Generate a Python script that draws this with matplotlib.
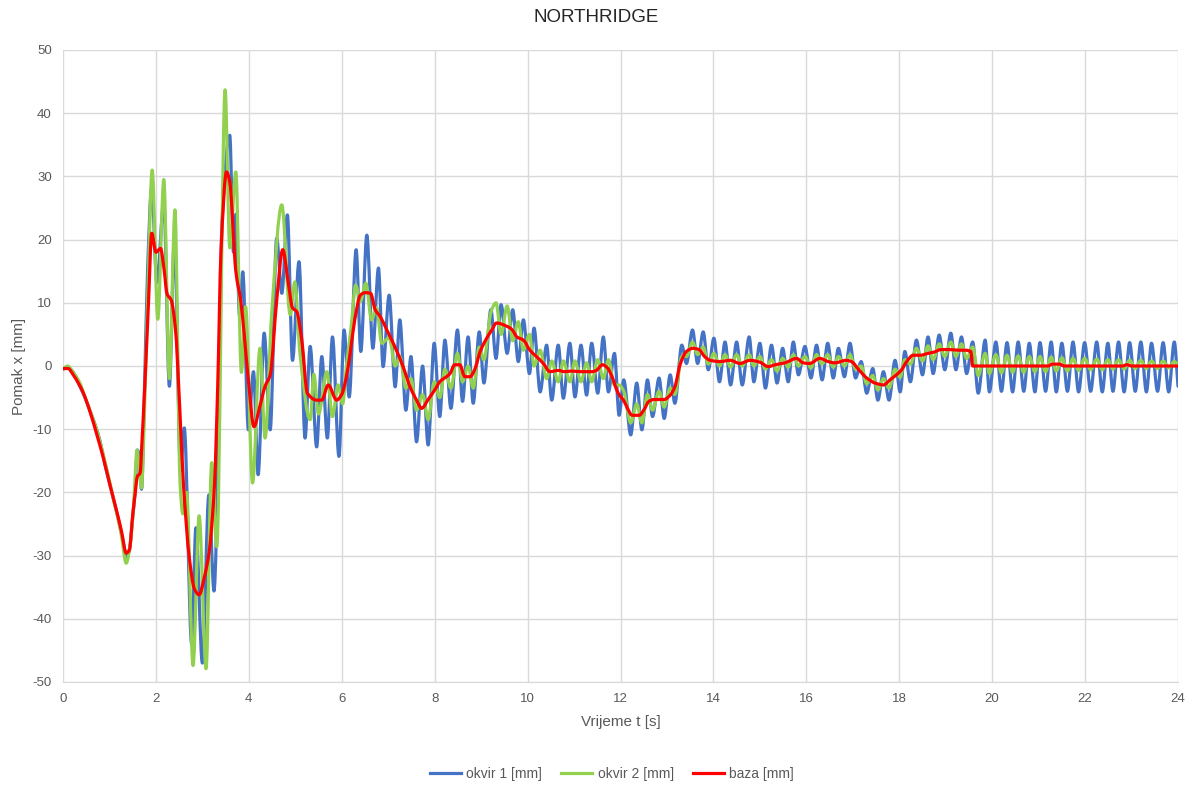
import matplotlib
matplotlib.use("Agg")
import matplotlib.pyplot as plt
from matplotlib.path import Path
from matplotlib.patches import PathPatch
from matplotlib.lines import Line2D

plt.rcParams['font.family'] = ['Liberation Sans', 'DejaVu Sans']
plt.rcParams['axes.unicode_minus'] = False

title = "NORTHRIDGE"
x_label = "Vrijeme t [s]"
y_label = "Pomak x [mm]"
series_names = ["okvir 1 [mm]", "okvir 2 [mm]", "baza [mm]"]
x_ticks = list(range(0, 25, 2))
y_ticks = list(range(-50, 51, 10))

# okvir 1 (blue) - read extrema
blue_t = [0, 0.1, 0.2, 0.35, 0.5, 0.6, 0.7, 0.8, 0.9, 1.0, 1.1, 1.2, 1.3, 1.37, 1.43, 1.5, 1.55, 1.6, 1.64, 1.69,
          1.75, 1.82, 1.91, 2.02, 2.17, 2.29, 2.4, 2.53, 2.61, 2.77, 2.86, 3.0, 3.14, 3.25, 3.35, 3.42, 3.59, 3.67,
          3.72, 3.8, 3.87, 3.99, 4.1, 4.2, 4.33, 4.46, 4.6, 4.71, 4.83, 4.94, 5.08, 5.21, 5.32, 5.46, 5.57, 5.69,
          5.8, 5.94, 6.05, 6.16, 6.31, 6.41, 6.54, 6.67, 6.79, 6.89, 7.02, 7.15, 7.25, 7.38, 7.49, 7.61, 7.74, 7.86,
          7.99, 8.11, 8.22, 8.35, 8.49, 8.6, 8.72, 8.83, 8.96, 9.06, 9.21, 9.32, 9.43, 9.56, 9.68, 9.8, 9.91, 10.04,
          10.14, 10.27, 10.41, 10.52, 10.66, 10.77, 10.91, 11.02, 11.15, 11.27, 11.38, 11.51, 11.63, 11.74, 11.87,
          11.97, 12.07, 12.22, 12.35, 12.46, 12.58, 12.69, 12.83, 12.94, 13.07, 13.17, 13.32, 13.42, 13.55, 13.66,
          13.78, 13.89, 14.01, 14.13, 14.25, 14.37, 14.5, 14.62, 14.77, 14.87, 15.0, 15.12, 15.25, 15.37, 15.49,
          15.61, 15.72, 15.83, 15.97, 16.1, 16.22, 16.34, 16.46, 16.58, 16.69, 16.82, 16.94, 17.06, 17.18, 17.3,
          17.43, 17.54, 17.66, 17.78, 17.91, 18.02, 18.12, 18.24, 18.37, 18.5, 18.62, 18.73, 18.86, 18.98, 19.11,
          19.22, 19.34, 19.45, 19.58, 19.7, 19.85, 19.94, 20.08, 20.2, 20.32, 20.44, 20.56, 20.68, 20.8, 20.92,
          21.03, 21.15, 21.27, 21.38, 21.5, 21.62, 21.74, 21.86, 21.99, 22.12, 22.25, 22.37, 22.49, 22.6, 22.72,
          22.84, 22.96, 23.08, 23.2, 23.32, 23.43, 23.56, 23.68, 23.8, 23.92, 24.0]
blue_v = [-0.5, -0.3, -0.8, -3, -5.5, -7.5, -9.5, -12, -15.5, -18.5, -21.5, -24.5, -28, -30.5, -29, -24, -20, -13.3, -14,
          -19.5, -5, 15, 28.3, 13.2, 25.9, -3.2, 20.4, -16.5, -9.8, -44, -25.6, -47, -20.4, -35.6, -10, 22.2, 36.5, 18,
          24, 8, 14.9, -10.1, -0.9, -17.2, 5.2, -10.1, 20.2, 11.5, 23.9, 0.9, 16.5, -11.4, 3.1, -12.8, 1.5, -11.4,
          4.6, -14.3, 5.7, -4.9, 18.4, 2.3, 20.7, 2.8, 15.5, -0.1, 11.2, -3.3, 7.3, -7, 1.5, -12, 0, -12.5,
          3.6, -8, 4.1, -6.7, 5.7, -5.6, 4.6, -5.9, 5.4, -2.7, 8.9, 1.2, 9.7, 2, 8.9, 0.7, 7.3, -1.2,
          6, -4.1, 3.3, -5.4, 3.3, -5.1, 3.6, -4.9, 3.3, -4.6, 3.6, -4.3, 4.6, -4.1, 2,
          -7.8, -2.2, -10.9, -2.7, -10.1, -2.2, -8, -1.9, -8.3, -1.4, -5.9, 3.3, 0.4, 5.7, 0.4,
          5.4, -0.6, 4.4, -2.5, 3.8, -3, 3.8, -3, 4.6, -2.5, 3.6, -3.5, 3.3, -2.7, 2.8,
          -2.5, 3.8, -1.4, 3.1, -1.9, 3.3, -2.2, 3.6, -1.9, 2.8, -1.7, 3.6, -1.9, 0.7, -4.3,
          -0.4, -5.4, -0.9, -5.4, 0.9, -4.1, 2.3, -2.5, 4.1, -1.4, 4.6, -1.2, 4.9, -0.6, 5.2,
          -0.6, 4.6, -1.2, 3.8, -4.3, 4.1, -4.1, 3.8, -4.0, 3.7, -4.1, 3.8, -4.0, 3.6, -4.1,
          3.7, -4.0, 3.8, -4.1, 3.6, -4.0, 3.8, -4.1, 3.7, -4.0, 3.8, -4.1, 3.6, -4.0, 3.8,
          -4.1, 3.7, -4.0, 3.8, -4.1, 3.6, -4.0, 3.7, -4.1, 3.8, -3.2]

# okvir 2 (green) - read extrema
green_t = [0, 0.1, 0.2, 0.35, 0.5, 0.7, 0.9, 1.1, 1.25, 1.36, 1.45, 1.52, 1.57, 1.59, 1.64, 1.69, 1.75, 1.82,
           1.92, 2.04, 2.17, 2.29, 2.41, 2.52, 2.58, 2.66, 2.8, 2.93, 3.08, 3.2, 3.31, 3.49, 3.59, 3.72, 3.84,
           3.93, 4.08, 4.24, 4.35, 4.49, 4.71, 4.89, 4.99, 5.1, 5.32, 5.4, 5.5, 5.68, 5.8, 5.92, 6.02, 6.1, 6.2,
           6.3, 6.4, 6.52, 6.64, 6.75, 6.86, 7.02, 7.15, 7.25, 7.38, 7.49, 7.61, 7.74, 7.86, 7.99, 8.11, 8.22,
           8.35, 8.49, 8.6, 8.72, 8.83, 8.96, 9.06, 9.21, 9.32, 9.43, 9.56, 9.68, 9.8, 9.91, 10.04, 10.14,
           10.27, 10.41, 10.52, 10.66, 10.77, 10.91, 11.02, 11.15, 11.27, 11.38, 11.51, 11.63, 11.74, 11.87,
           11.97, 12.07, 12.22, 12.35, 12.46, 12.58, 12.69, 12.83, 12.94, 13.07, 13.17, 13.32, 13.42, 13.55,
           13.66, 13.78, 13.89, 14.01, 14.13, 14.25, 14.37, 14.5, 14.62, 14.77, 14.87, 15.0, 15.12, 15.25,
           15.37, 15.49, 15.61, 15.72, 15.83, 15.97, 16.1, 16.22, 16.34, 16.46, 16.58, 16.69, 16.82, 16.94,
           17.06, 17.18, 17.3, 17.43, 17.54, 17.66, 17.78, 17.91, 18.02, 18.12, 18.24, 18.37, 18.5, 18.62,
           18.73, 18.86, 18.98, 19.11, 19.22, 19.34, 19.45, 19.58, 19.7, 19.85, 19.94, 20.08, 20.2, 20.32,
           20.44, 20.56, 20.68, 20.8, 20.92, 21.03, 21.15, 21.27, 21.38, 21.5, 21.62, 21.74, 21.86, 21.99,
           22.12, 22.25, 22.37, 22.49, 22.6, 22.72, 22.84, 22.96, 23.08, 23.2, 23.32, 23.43, 23.56, 23.68,
           23.8, 23.92, 24.0]
green_v = [-0.5, 0, -0.8, -2.5, -5.5, -9.5, -15, -21.5, -26.5, -31.2, -28, -22, -15, -13.3, -16.1, -19.3, -8, 10,
           31, 7.4, 29.5, -2, 24.7, -18.6, -23.4, -20, -47.4, -23.7, -47.9, -15.3, -28.6, 43.7, 18.7, 30.7, -1,
           9.4, -18.5, 2.8, -11.4, 8.1, 25.5, 8.1, 13.3, 2, -8.5, -1.3, -7.6, -0.9, -8, -3, -6, 0, 6,
           12.8, 10.2, 13.1, 7.3, 9.2, 3.6, 4.5, 0, 1.5, -3.5, -2, -7, -4.5, -8.5, -2.5, -5, -0.5,
           -3.5, 2, -2.5, 0, -3.5, 3, 1, 8.5, 10, 5, 9.5, 4, 7, 2.5, 5, 0,
           2.5, -2, 0.8, -2.5, 0.8, -2.5, 0.8, -2.5, 0.5, -2.5, 1, -2, 1, -3,
           -3, -4, -9, -6, -9, -4.5, -7, -4, -6.5, -3.5, -4.5, 1.5, 1.5, 3.8,
           1.8, 3, 0.3, 2, 0, 1.8, -0.2, 1.8, 0, 1.8, 0, 1.5, -0.5, 1,
           -0.8, 1.2, -0.2, 1.8, 0, 1.5, -0.3, 1.8, 0.3, 1.8, -0.2, 1.5, 0, 1.8,
           -0.5, 0, -2.8, -1.5, -3.8, -2, -3.5, -0.5, -1.8, 1, 0.3, 2.8, 0.8, 3.2,
           1, 3.5, 1.5, 3.8, 1.5, 3.5, 1.2, 3, -1.5, 2, -1.2, 1.8, -1.1, 1.7,
           -1.0, 1.6, -1.0, 1.5, -0.9, 1.5, -0.9, 1.4, -0.8, 1.3, -0.8, 1.2, -0.7, 1.2,
           -0.6, 1.1, -0.6, 1.0, -0.5, 1.0, -0.5, 0.9, -0.4, 0.9, -0.4, 0.8, -0.4, 0.8,
           -0.3, 0.7, 0.2]

# baza (red)
red_t = [0, 0.11, 0.22, 0.33, 0.44, 0.58, 0.73, 0.87, 1.01, 1.16, 1.26, 1.36, 1.43, 1.5, 1.55, 1.6, 1.66, 1.7,
         1.76, 1.84, 1.91, 2.0, 2.1, 2.17, 2.24, 2.33, 2.42, 2.51, 2.59, 2.72, 2.83, 2.93, 3.04, 3.15, 3.26,
         3.33, 3.4, 3.52, 3.59, 3.72, 3.83, 3.9, 4.0, 4.11, 4.24, 4.35, 4.46, 4.6, 4.73, 4.85, 4.94, 5.03,
         5.14, 5.26, 5.46, 5.57, 5.71, 5.89, 6.0, 6.1, 6.18, 6.28, 6.4, 6.5, 6.62, 6.72, 6.83, 6.97, 7.14,
         7.32, 7.47, 7.61, 7.72, 7.86, 8.0, 8.11, 8.33, 8.43, 8.54, 8.65, 8.76, 8.86, 8.98, 9.12, 9.23,
         9.33, 9.55, 9.66, 9.77, 9.91, 10.05, 10.16, 10.34, 10.48, 10.66, 10.8, 10.94, 11.15, 11.38, 11.48,
         11.61, 11.72, 11.8, 11.95, 12.08, 12.15, 12.25, 12.4, 12.5, 12.61, 12.72, 12.94, 13.07, 13.17,
         13.29, 13.42, 13.56, 13.69, 13.81, 13.93, 14.14, 14.36, 14.57, 14.79, 15.0, 15.18, 15.33, 15.54,
         15.79, 15.93, 16.07, 16.29, 16.47, 16.62, 16.86, 16.97, 17.13, 17.3, 17.48, 17.66, 17.8, 17.97,
         18.05, 18.16, 18.3, 18.45, 18.62, 18.75, 18.9, 19.08, 19.27, 19.42, 19.54, 19.58, 20.5, 21.2,
         21.3, 21.45, 21.55, 22.8, 22.9, 23.0, 24.0]
red_v = [-0.4, -0.4, -1.4, -2.7, -4.3, -7.2, -10.9, -14.6, -18.8, -23.1, -26.2, -29.6, -29.1, -23.6, -20.4, -17.5,
         -16.9, -12, -3.2, 10, 21, 18, 18.6, 15.6, 11.4, 10.4, 5.9, -6.2, -18.4, -30.4, -35.3, -36.2, -33.5,
         -29.2, -18.9, -3.2, 18, 30.7, 29.1, 15, 10.1, 5, -3, -9.6, -6.3, -3.2, -1.4, 10.4, 18.4, 13.1, 9.2,
         8.6, 4.1, -4.3, -5.4, -5.4, -3, -5.4, -4.5, -1.7, 2, 7.3, 11.2, 11.6, 11.5, 8.9, 7.8, 5.7, 3.1,
         -0.1, -3.3, -5.4, -6.7, -5.3, -3.8, -2.5, -1.2, 0.2, 0.2, -1.7, -1.7, -0.6, 2.3, 4.4, 5.7,
         6.8, 6.3, 5.8, 4.6, 4.1, 2.5, 1.7, 0.4, -0.9, -0.7, -0.9, -0.8, -0.9, -0.9, -0.7,
         0.2, -0.3, -1.4, -4.3, -5.6, -6.7, -7.8, -7.8, -7, -5.6, -5.3, -5.3, -4.6, -3.3,
         0.4, 2.3, 2.8, 2.6, 1.5, 0.9, 0.7, 0.9, 0.4, 0.9, 0.6, -0.1, 0.2, 0.5,
         1.2, 0.5, 0.4, 1.2, 0.7, 0.5, 0.9, 0.7, -0.6, -1.9, -2.7, -3, -2.2, -1.2,
         -0.6, 0.7, 1.7, 1.7, 2.0, 2.2, 2.6, 2.6, 2.5, 2.5, 2.3, 0, 0, 0,
         0.3, 0.3, 0, 0, 0.2, 0, 0]


def smooth_path(t, v):
    """Smoothed line (like a spreadsheet 'smoothed line') through the given points,
    drawn as cubic Bezier segments with monotone tangents."""
    n = len(t)
    d = [(v[i + 1] - v[i]) / (t[i + 1] - t[i]) for i in range(n - 1)]
    m = [0.0] * n
    m[0], m[-1] = d[0], d[-1]
    for i in range(1, n - 1):
        if d[i - 1] * d[i] <= 0:
            m[i] = 0.0
        else:
            m[i] = 2.0 / (1.0 / d[i - 1] + 1.0 / d[i])
    verts = [(t[0], v[0])]
    codes = [Path.MOVETO]
    for i in range(n - 1):
        h = t[i + 1] - t[i]
        verts += [(t[i] + h / 3, v[i] + m[i] * h / 3),
                  (t[i + 1] - h / 3, v[i + 1] - m[i + 1] * h / 3),
                  (t[i + 1], v[i + 1])]
        codes += [Path.CURVE4] * 3
    return Path(verts, codes)


fig = plt.figure(figsize=(11.93, 7.85), dpi=100)
ax = fig.add_axes([63 / 1193, 1 - 682 / 785, (1178 - 63) / 1193, (682 - 50) / 785])

grid_c = "#d9d9d9"
text_c = "#595959"
colors = ["#4472C4", "#92D050", "#FF0000"]
lw = 2.3
for (tt, vv), c, z in zip([(blue_t, blue_v), (green_t, green_v), (red_t, red_v)], colors, [3, 4, 5]):
    ax.add_patch(PathPatch(smooth_path(tt, vv), facecolor="none", edgecolor=c, lw=lw,
                           joinstyle="round", capstyle="round", zorder=z))

ax.set_xlim(0, 24)
ax.set_ylim(-50, 50)
ax.set_xticks(x_ticks)
ax.set_yticks(y_ticks)
ax.grid(True, color=grid_c, lw=1)
ax.set_axisbelow(True)
for s in ["top", "right", "left"]:
    ax.spines[s].set_visible(False)
ax.spines["bottom"].set_color(grid_c)
ax.tick_params(length=0, labelsize=9.5, colors=text_c, pad=8)
ax.set_xlabel(x_label, fontsize=11, color=text_c, labelpad=7)
ax.set_ylabel(y_label, fontsize=11, color=text_c, labelpad=5)
fig.text(0.5, 1 - 18 / 785, title, ha="center", va="center", fontsize=13.5, color="#262626")

handles = [Line2D([], [], color=c, lw=lw) for c in colors]
fig.legend(handles, series_names, loc="center", bbox_to_anchor=(612 / 1193, 1 - 774 / 785), ncol=3, frameon=False,
           fontsize=10, handlelength=2.2, handletextpad=0.4, columnspacing=1.4, labelcolor=text_c)

fig.savefig("out.png", dpi=100)
